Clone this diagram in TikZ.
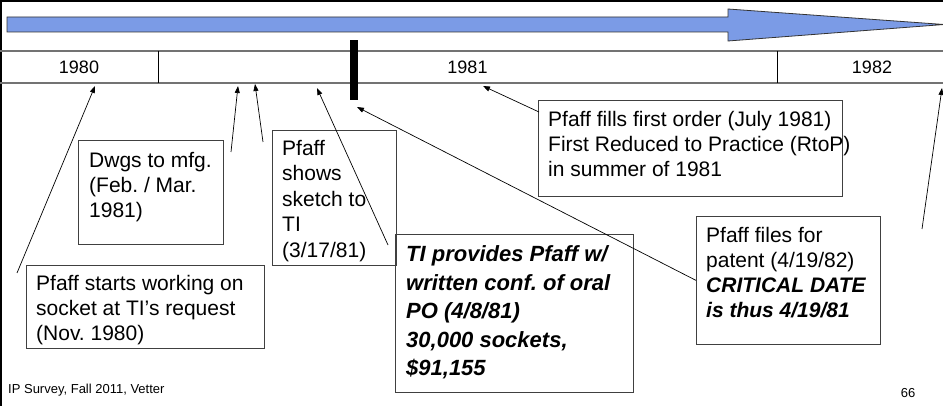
\documentclass[tikz,border=0pt]{standalone}
\usepackage{fontspec}
\setmainfont{Liberation Sans}
\usetikzlibrary{arrows.meta}
\definecolor{arrowblue}{RGB}{123,155,230}
\frenchspacing
\tikzset{
  box/.style={draw=black!75, line width=0.8pt, inner sep=0, anchor=north west},
  txt/.style={anchor=north west, inner sep=0, align=left, font=\fontsize{21}{25}\selectfont},
  bigtxt/.style={anchor=north west, inner sep=0, align=left, font=\fontsize{22}{28.5}\selectfont\bfseries\itshape},
  conn/.style={draw, line width=0.7pt, -{Triangle[length=7pt,width=5pt]}},
  year/.style={inner sep=0, font=\fontsize{18}{20}\selectfont},
  foot/.style={inner sep=0, font=\fontsize{13}{15}\selectfont},
  tline/.style={draw=black!55, line width=1.2pt},
  tdiv/.style={draw=black, line width=0.8pt},
}
\begin{document}
\begin{tikzpicture}[x=1pt,y=-1pt]
\useasboundingbox (0,0) rectangle (943,406);
% frame
\fill[black] (0,0) rectangle (943,2.5);
\fill[black] (0,0) rectangle (2,406);
% big blue arrow
\filldraw[fill=arrowblue, draw=black!80, line width=0.8pt]
  (7,17) -- (728,17) -- (728,9) -- (944,24.5) -- (728,41) -- (728,32) -- (7,32) -- cycle;
% timeline row
\draw[tline] (0,51) -- (943,51);
\draw[tline] (0,83) -- (943,83);
\draw[tdiv] (158,51) -- (158,83);
\draw[tdiv] (777,51) -- (777,83);
\node[year] (y1980) at (79,67.5) {1980};
\node[year] (y1981) at (467.5,67.5) {1981};
\node[year] (y1982) at (872,67.5) {1982};
% critical date bar
\fill[black] (350,40) rectangle (358,100);
% boxes
\node[box, minimum width=238, minimum height=83] (bStart) at (26,265) {};
\node[box, minimum width=145, minimum height=104] (bDwgs) at (78,140) {};
\node[box, minimum width=124, minimum height=135] (bShows) at (272,130) {};
\node[box, minimum width=238, minimum height=158] (bTI) at (395,234) {};
\node[box, minimum width=304, minimum height=96] (bFills) at (538,100) {};
\node[box, minimum width=184, minimum height=128] (bFiles) at (696,216) {};
% texts
\node[txt] (tStart) at (36,275) {Pfaff starts working on\\socket at TI’s request\\(Nov. 1980)};
\node[txt] (tDwgs) at (89,152) {Dwgs to mfg.\\(Feb. / Mar.\\1981)};
\node[txt, font=\fontsize{21}{25.5}\selectfont] (tShows) at (282,140) {Pfaff\\shows\\sketch to\\TI\\(3/17/81)};
\node[bigtxt] (tTI) at (406,245.5) {TI provides Pfaff w/\\written conf. of oral\\PO (4/8/81)\\30,000 sockets,\\\$91,155};
\node[txt] (tFills) at (548,111) {Pfaff fills first order (July 1981)\\First Reduced to Practice (RtoP)\\in summer of 1981};
\node[txt] (tFiles) at (706,227) {Pfaff files for\\patent (4/19/82)\\\textbf{\textit{CRITICAL DATE}}\\\textbf{\textit{is thus 4/19/81}}};
% footer
\node[foot, anchor=west] (footL) at (8,390) {IP Survey, Fall 2011, Vetter};
\node[foot] (footR) at (908,393) {66};
% connector end points
\coordinate (s1) at (17,273);  \coordinate (h1) at (95,86);
\coordinate (s2) at (231,152); \coordinate (h2) at (238,86);
\coordinate (s3) at (263,142); \coordinate (h3) at (255,84);
\coordinate (s4) at (388,245); \coordinate (h4) at (317,88);
\coordinate (h5) at (357,107);
\coordinate (s6) at (539,112); \coordinate (h6) at (483,86);
\coordinate (s7) at (922,229); \coordinate (h7) at (942,88);
\draw[conn] (s1) -- (h1);
\draw[conn] (s2) -- (h2);
\draw[conn] (s3) -- (h3);
\draw[conn] (s4) -- (h4);
\draw[conn] (bFiles.west) -- (h5);
\draw[conn] (s6) -- (h6);
\draw[conn] (s7) -- (h7);
\end{tikzpicture}
\end{document}
